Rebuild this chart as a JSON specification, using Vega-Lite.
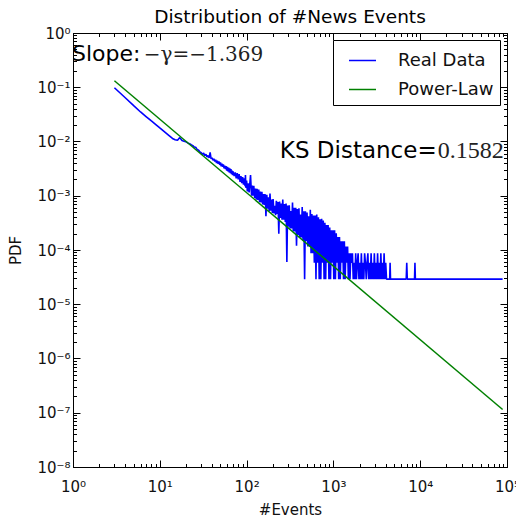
{
  "$schema": "https://vega.github.io/schema/vega-lite/v6.json",
  "width": 434,
  "height": 434,
  "autosize": {"type": "none"},
  "padding": {"left": 73, "top": 33, "right": 9, "bottom": 53},
  "background": "white",
  "title": {"text": "Distribution of #News Events", "font": "DejaVu Sans", "fontSize": 18.5, "fontWeight": "normal", "color": "black", "offset": 0, "anchor": "middle"},
  "datasets": {
    "real": [
      {"x":3,"y":0.098},{"x":4,"y":0.064},{"x":5,"y":0.0458},{"x":6,"y":0.035},{"x":7,"y":0.0285},{"x":8,"y":0.0239},{"x":9,"y":0.0205},{"x":10,"y":0.0178},{"x":11,"y":0.0157},{"x":12,"y":0.014},{"x":13,"y":0.0126},{"x":14,"y":0.0114},{"x":15,"y":0.0108},{"x":16,"y":0.0105},{"x":17,"y":0.0118},{"x":18,"y":0.0104},{"x":19,"y":0.0101},{"x":20,"y":0.0099},{"x":21,"y":0.0094},{"x":22,"y":0.0091},{"x":23,"y":0.0087},{"x":24,"y":0.0084},{"x":25,"y":0.0079},{"x":26,"y":0.0078},{"x":27,"y":0.0071},{"x":28,"y":0.0069},{"x":29,"y":0.0064},
      {"x":30,"y":0.0062},{"x":31,"y":0.0058},{"x":32,"y":0.0061},{"x":33,"y":0.0055},{"x":34,"y":0.0058},{"x":35,"y":0.0052},{"x":36,"y":0.0055},{"x":37,"y":0.005},{"x":38,"y":0.0063},{"x":39,"y":0.0048},{"x":40,"y":0.005},{"x":41,"y":0.0045},{"x":42,"y":0.0048},{"x":43,"y":0.0043},{"x":44,"y":0.0046},{"x":45,"y":0.004},{"x":46,"y":0.0044},{"x":47,"y":0.0039},{"x":48,"y":0.0043},{"x":49,"y":0.0037},{"x":50,"y":0.0041},{"x":51,"y":0.0035},{"x":52,"y":0.0039},{"x":53,"y":0.0034},{"x":54,"y":0.0038},{"x":55,"y":0.0032},{"x":56,"y":0.0036},{"x":57,"y":0.0031},{"x":58,"y":0.0035},{"x":59,"y":0.0029},{"x":60,"y":0.0034},{"x":61,"y":0.0028},{"x":62,"y":0.0033},{"x":63,"y":0.0027},{"x":64,"y":0.0032},{"x":65,"y":0.0026},{"x":66,"y":0.0031},{"x":67,"y":0.0025},{"x":68,"y":0.0029},{"x":69,"y":0.0024},{"x":70,"y":0.0028},{"x":72,"y":0.0023},{"x":74,"y":0.0027},{"x":76,"y":0.0021},{"x":78,"y":0.0026},{"x":80,"y":0.002},{"x":82,"y":0.0025},{"x":84,"y":0.0018},{"x":86,"y":0.0023},{"x":88,"y":0.0017},{"x":90,"y":0.0022},{"x":92,"y":0.0016},{"x":94,"y":0.0021},{"x":96,"y":0.0015},{"x":97,"y":0.0024},{"x":98,"y":0.0014},
      {"x":100,"y":0.0019},{"x":102,"y":0.0012},{"x":104,"y":0.0017},{"x":107,"y":0.00115},{"x":109,"y":0.0017},{"x":111,"y":0.0024},{"x":114,"y":0.001},{"x":116,"y":0.00154},{"x":119,"y":0.001},{"x":121,"y":0.00152},{"x":124,"y":0.00091},{"x":127,"y":0.00136},{"x":129,"y":0.00085},{"x":132,"y":0.00134},{"x":135,"y":0.00084},{"x":138,"y":0.0013},{"x":141,"y":0.00076},{"x":144,"y":0.0012},{"x":147,"y":0.00075},{"x":150,"y":0.00118},{"x":153,"y":0.00069},{"x":157,"y":0.00107},{"x":160,"y":0.00068},{"x":164,"y":0.00107},{"x":167,"y":0.00042},{"x":171,"y":0.00104},{"x":174,"y":0.00058},{"x":178,"y":0.00094},{"x":182,"y":0.00052},{"x":186,"y":0.0011},{"x":190,"y":0.00053},{"x":194,"y":0.00085},{"x":198,"y":0.00048},{"x":202,"y":0.00087},{"x":207,"y":0.00047},{"x":211,"y":0.00065},{"x":216,"y":0.00044},{"x":220,"y":0.00081},{"x":225,"y":0.00046},{"x":230,"y":0.00077},{"x":235,"y":0.0002},{"x":240,"y":0.00078},{"x":245,"y":0.00039},{"x":250,"y":0.00072},{"x":256,"y":0.00036},{"x":261,"y":0.00085},{"x":267,"y":0.00036},{"x":273,"y":0.0007},{"x":279,"y":0.00033},{"x":285,"y":0.00072},{"x":291,"y":0.00006},{"x":297,"y":0.00066},{"x":304,"y":0.00027},{"x":310,"y":0.00067},{"x":317,"y":0.00025},{"x":324,"y":0.00052},{"x":331,"y":0.00025},{"x":338,"y":0.00075},{"x":345,"y":0.00022},{"x":353,"y":0.0006},{"x":360,"y":0.00022},{"x":368,"y":0.0006},{"x":376,"y":0.00012},{"x":384,"y":0.00057},{"x":393,"y":0.00019},{"x":401,"y":0.00059},{"x":410,"y":0.00017},{"x":419,"y":0.00045},{"x":428,"y":0.00017},{"x":437,"y":0.00062},{"x":447,"y":0.00015},{"x":456,"y":0.00052},{"x":466,"y":0.000029},{"x":476,"y":0.00052},{"x":487,"y":0.000145},{"x":497,"y":0.00049},{"x":508,"y":0.000116},{"x":519,"y":0.00042},{"x":530,"y":0.000116},{"x":542,"y":0.00055},{"x":553,"y":0.000087},{"x":565,"y":0.00046},{"x":578,"y":0.000087},{"x":590,"y":0.00043},{"x":603,"y":0.000058},{"x":616,"y":0.00043},{"x":630,"y":0.000029},{"x":643,"y":0.00045},{"x":657,"y":0.000058},{"x":672,"y":0.0004},{"x":686,"y":0.000029},{"x":701,"y":0.00037},{"x":716,"y":0.000029},
      {"x":732,"y":0.000377},{"x":748,"y":0.000058},{"x":764,"y":0.000348},{"x":781,"y":0.000029},{"x":798,"y":0.000319},{"x":815,"y":0.000029},{"x":833,"y":0.00029},{"x":851,"y":0.000058},{"x":869,"y":0.00029},{"x":888,"y":0.000029},{"x":907,"y":0.000261},{"x":927,"y":0.000029},{"x":947,"y":0.000232},{"x":968,"y":0.000058},{"x":989,"y":0.000232},{"x":1010,"y":0.000029},{"x":1032,"y":0.000232},{"x":1055,"y":0.000029},{"x":1078,"y":0.000203},{"x":1101,"y":0.000058},{"x":1125,"y":0.000174},{"x":1150,"y":0.000029},{"x":1175,"y":0.000174},{"x":1200,"y":0.000029},{"x":1226,"y":0.000145},{"x":1253,"y":0.000058},{"x":1280,"y":0.000145},{"x":1308,"y":0.000029},{"x":1337,"y":0.000145},{"x":1366,"y":0.000029},{"x":1395,"y":0.000116},{"x":1426,"y":0.000058},{"x":1457,"y":0.000116},{"x":1488,"y":0.000029},{"x":1521,"y":0.000087},{"x":1554,"y":0.000029},{"x":1587,"y":0.000087},{"x":1622,"y":0.000058},{"x":1657,"y":0.000087},{"x":1693,"y":0.000029},{"x":1730,"y":0.000058},{"x":1768,"y":0.000029},{"x":1806,"y":0.000087},{"x":1845,"y":0.000029},{"x":1886,"y":0.000058},{"x":1927,"y":0.000087},{"x":1969,"y":0.000029},{"x":2011,"y":0.000058},{"x":2055,"y":0.000029},{"x":2100,"y":0.000087},{"x":2146,"y":0.000029},{"x":2192,"y":0.000058},{"x":2240,"y":0.000029},{"x":2289,"y":0.000087},{"x":2339,"y":0.000058},{"x":2390,"y":0.000029},{"x":2442,"y":0.000058},{"x":2495,"y":0.000087},{"x":2549,"y":0.000029},{"x":2605,"y":0.000058},{"x":2661,"y":0.000029},{"x":2719,"y":0.000087},{"x":2778,"y":0.000029},{"x":2839,"y":0.000058},{"x":2901,"y":0.000029},{"x":2964,"y":0.000087},{"x":3028,"y":0.000029},{"x":3094,"y":0.000058},{"x":3162,"y":0.000029},{"x":3230,"y":0.000087},{"x":3301,"y":0.000029},{"x":3373,"y":0.000058},{"x":3446,"y":0.000029},{"x":3521,"y":0.000087},{"x":3598,"y":0.000029},{"x":3676,"y":0.000058},{"x":3756,"y":0.000029},{"x":3838,"y":0.000087},{"x":3922,"y":0.000029},{"x":4007,"y":0.000058},{"x":4094,"y":0.000029},{"x":4184,"y":0.000029},
      {"x":4450,"y":0.000029},{"x":4500,"y":0.000058},{"x":4550,"y":0.000029},{"x":6900,"y":0.000029},{"x":7000,"y":0.000058},{"x":7100,"y":0.000029},{"x":8600,"y":0.000029},{"x":8700,"y":0.000058},{"x":8800,"y":0.000029},{"x":89000,"y":0.000029}
    ],
    "fit": [
      {"x":3,"y":0.132},{"x":89000,"y":1.15e-7}
    ]
  },
  "layer": [
    {
      "data": {"name": "real"},
      "mark": {"type": "line", "strokeWidth": 1.6, "strokeJoin": "bevel", "clip": true},
      "encoding": {
        "x": {"field": "x", "type": "quantitative",
          "scale": {"type": "log", "domain": [1, 100000], "nice": false},
          "axis": {"orient": "bottom", "title": "#Events", "grid": false,
            "values": [1,2,3,4,5,6,7,8,9,10,20,30,40,50,60,70,80,90,100,200,300,400,500,600,700,800,900,1000,2000,3000,4000,5000,6000,7000,8000,9000,10000,20000,30000,40000,50000,60000,70000,80000,90000,100000],
            "labelExpr": "abs(log(datum.value)/LN10 - round(log(datum.value)/LN10)) < 0.001 ? '10' + substring('⁰¹²³⁴⁵⁶⁷⁸⁹', round(log(datum.value)/LN10), round(log(datum.value)/LN10) + 1) : ''",
            "tickSize": {"condition": {"test": "abs(log(datum.value)/LN10 - round(log(datum.value)/LN10)) < 0.001", "value": -7}, "value": -3.5},
            "labelPadding": 19, "titlePadding": 5}},
        "y": {"field": "y", "type": "quantitative",
          "scale": {"type": "log", "domain": [1e-8, 1], "nice": false},
          "axis": {"orient": "left", "title": "PDF", "grid": false,
            "values": [1e-8,2e-8,3e-8,4e-8,5e-8,6e-8,7e-8,8e-8,9e-8,1e-7,2e-7,3e-7,4e-7,5e-7,6e-7,7e-7,8e-7,9e-7,1e-6,2e-6,3e-6,4e-6,5e-6,6e-6,7e-6,8e-6,9e-6,1e-5,2e-5,3e-5,4e-5,5e-5,6e-5,7e-5,8e-5,9e-5,1e-4,2e-4,3e-4,4e-4,5e-4,6e-4,7e-4,8e-4,9e-4,1e-3,2e-3,3e-3,4e-3,5e-3,6e-3,7e-3,8e-3,9e-3,1e-2,2e-2,3e-2,4e-2,5e-2,6e-2,7e-2,8e-2,9e-2,1e-1,2e-1,3e-1,4e-1,5e-1,6e-1,7e-1,8e-1,9e-1,1],
            "labelExpr": "abs(log(datum.value)/LN10 - round(log(datum.value)/LN10)) < 0.001 ? '10' + (round(log(datum.value)/LN10) < 0 ? '⁻' : '') + substring('⁰¹²³⁴⁵⁶⁷⁸⁹', abs(round(log(datum.value)/LN10)), abs(round(log(datum.value)/LN10)) + 1) : ''",
            "tickSize": {"condition": {"test": "abs(log(datum.value)/LN10 - round(log(datum.value)/LN10)) < 0.001", "value": -7}, "value": -3.5},
            "labelPadding": 10, "titlePadding": 13}},
        "color": {"datum": "Real Data", "type": "nominal",
          "scale": {"domain": ["Real Data", "Power-Law"], "range": ["#0000ff", "#008000"]},
          "legend": {"title": null}}
      }
    },
    {
      "data": {"name": "fit"},
      "mark": {"type": "line", "strokeWidth": 1.5, "clip": true},
      "encoding": {
        "x": {"field": "x", "type": "quantitative",
          "scale": {"type": "log", "domain": [1, 100000], "nice": false},
          "axis": {"orient": "top", "title": null, "grid": false, "labels": false,
            "values": [1,2,3,4,5,6,7,8,9,10,20,30,40,50,60,70,80,90,100,200,300,400,500,600,700,800,900,1000,2000,3000,4000,5000,6000,7000,8000,9000,10000,20000,30000,40000,50000,60000,70000,80000,90000,100000],
            "tickSize": {"condition": {"test": "abs(log(datum.value)/LN10 - round(log(datum.value)/LN10)) < 0.001", "value": -7}, "value": -3.5}}},
        "y": {"field": "y", "type": "quantitative",
          "scale": {"type": "log", "domain": [1e-8, 1], "nice": false},
          "axis": {"orient": "right", "title": null, "grid": false, "labels": false,
            "values": [1e-8,2e-8,3e-8,4e-8,5e-8,6e-8,7e-8,8e-8,9e-8,1e-7,2e-7,3e-7,4e-7,5e-7,6e-7,7e-7,8e-7,9e-7,1e-6,2e-6,3e-6,4e-6,5e-6,6e-6,7e-6,8e-6,9e-6,1e-5,2e-5,3e-5,4e-5,5e-5,6e-5,7e-5,8e-5,9e-5,1e-4,2e-4,3e-4,4e-4,5e-4,6e-4,7e-4,8e-4,9e-4,1e-3,2e-3,3e-3,4e-3,5e-3,6e-3,7e-3,8e-3,9e-3,1e-2,2e-2,3e-2,4e-2,5e-2,6e-2,7e-2,8e-2,9e-2,1e-1,2e-1,3e-1,4e-1,5e-1,6e-1,7e-1,8e-1,9e-1,1],
            "tickSize": {"condition": {"test": "abs(log(datum.value)/LN10 - round(log(datum.value)/LN10)) < 0.001", "value": -7}, "value": -3.5}}},
        "color": {"datum": "Power-Law", "type": "nominal",
          "scale": {"domain": ["Real Data", "Power-Law"], "range": ["#0000ff", "#008000"]},
          "legend": {"title": null}}
      }
    },
    {
      "data": {"values": [{}]},
      "mark": {"type": "text", "text": "Slope:", "font": "DejaVu Sans", "fontSize": 22, "align": "left", "baseline": "alphabetic", "color": "black"},
      "encoding": {
        "x": {"datum": 0.974, "type": "quantitative", "scale": {"type": "log", "domain": [1, 100000], "nice": false}, "axis": null},
        "y": {"datum": 0.304, "type": "quantitative", "scale": {"type": "log", "domain": [1e-8, 1], "nice": false}, "axis": null}
      }
    },
    {
      "data": {"values": [{}]},
      "mark": {"type": "text", "text": "−γ=−1.369", "font": "DejaVu Serif", "fontSize": 20, "align": "left", "baseline": "alphabetic", "color": "#222222"},
      "encoding": {
        "x": {"datum": 6.52, "type": "quantitative", "scale": {"type": "log", "domain": [1, 100000], "nice": false}, "axis": null},
        "y": {"datum": 0.304, "type": "quantitative", "scale": {"type": "log", "domain": [1e-8, 1], "nice": false}, "axis": null}
      }
    },
    {
      "data": {"values": [{}]},
      "mark": {"type": "text", "text": "KS Distance=", "font": "DejaVu Sans", "fontSize": 23, "align": "left", "baseline": "alphabetic", "color": "black"},
      "encoding": {
        "x": {"datum": 241.5, "type": "quantitative", "scale": {"type": "log", "domain": [1, 100000], "nice": false}, "axis": null},
        "y": {"datum": 0.00501, "type": "quantitative", "scale": {"type": "log", "domain": [1e-8, 1], "nice": false}, "axis": null}
      }
    },
    {
      "data": {"values": [{}]},
      "mark": {"type": "text", "text": "0.1582", "font": "Liberation Serif", "fontSize": 24, "align": "left", "baseline": "alphabetic", "color": "#222222"},
      "encoding": {
        "x": {"datum": 15920, "type": "quantitative", "scale": {"type": "log", "domain": [1, 100000], "nice": false}, "axis": null},
        "y": {"datum": 0.00501, "type": "quantitative", "scale": {"type": "log", "domain": [1e-8, 1], "nice": false}, "axis": null}
      }
    }
  ],
  "resolve": {"axis": {"x": "independent", "y": "independent"}},
  "config": {
    "view": {"stroke": "black", "strokeWidth": 1},
    "axis": {
      "domainColor": "black", "domainWidth": 1, "tickColor": "black", "tickWidth": 1,
      "labelFont": "DejaVu Sans", "labelFontSize": 15, "labelColor": "#111111",
      "labelFlush": false, "labelOverlap": false, "labelBound": false,
      "titleFont": "DejaVu Sans", "titleFontSize": 15, "titleFontWeight": "normal", "titleColor": "#111111"
    },
    "legend": {
      "orient": "top-right", "offset": 7, "padding": 6,
      "strokeColor": "black", "fillColor": "white", "cornerRadius": 0,
      "labelFont": "DejaVu Sans", "labelFontSize": 18, "labelColor": "#111111",
      "symbolType": "stroke", "symbolSize": 729, "symbolStrokeWidth": 1.5,
      "symbolOffset": 9, "labelOffset": 21, "rowPadding": 5
    }
  }
}
